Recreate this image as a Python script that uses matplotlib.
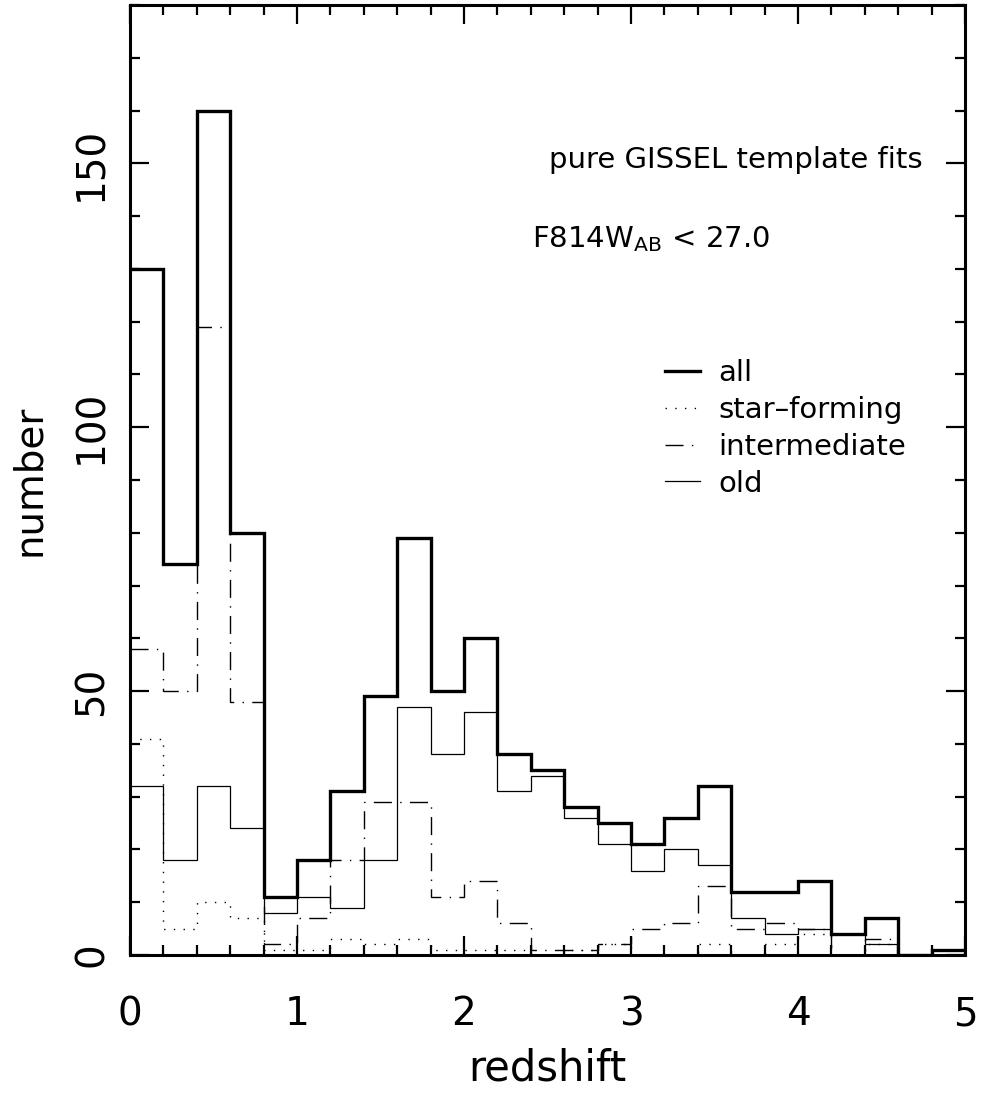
"""Redshift distribution of GISSEL template fits, split by spectral type."""

import matplotlib
matplotlib.use("Agg")
import matplotlib.pyplot as plt
import numpy as np
from matplotlib.lines import Line2D
from matplotlib.ticker import MultipleLocator

# bin edges in redshift (0.2 wide)
bin_edges = np.round(np.arange(0.0, 5.01, 0.2), 1)

# counts per bin
n_all = [130, 74, 160, 80, 11, 18, 31, 49, 79, 50, 60, 38, 35,
         28, 25, 21, 26, 32, 12, 12, 14, 4, 7, 0, 1]
n_starforming = [41, 5, 10, 7, 1, 1, 3, 2, 3, 1, 1, 1, 0,
                 1, 2, 0, 0, 2, 0, 2, 4, 0, 2, 0, 0]
n_intermediate = [58, 50, 119, 48, 2, 7, 18, 29, 29, 11, 14, 6, 1,
                  1, 2, 5, 6, 13, 5, 6, 5, 0, 3, 0, 0]
n_old = [32, 18, 32, 24, 8, 11, 9, 18, 47, 38, 46, 31, 34,
         26, 21, 16, 20, 17, 7, 4, 5, 4, 2, 0, 1]

plt.rcParams["font.family"] = "DejaVu Sans"
plt.rcParams["mathtext.default"] = "regular"

fig = plt.figure(figsize=(9.84, 10.97), dpi=100)
ax = fig.add_axes([0.1321, 0.1294, 0.8486, 0.866])

dotted = (0, (1, 6))
dashdot = (0, (13, 6, 1, 6))

ax.stairs(n_starforming, bin_edges, color="black", lw=1.0, ls=dotted, baseline=None, zorder=2)
ax.stairs(n_intermediate, bin_edges, color="black", lw=1.0, ls=dashdot, baseline=None, zorder=2)
ax.stairs(n_old, bin_edges, color="black", lw=0.9, baseline=None, zorder=3)
ax.stairs(n_all, bin_edges, color="black", lw=2.4, baseline=None, zorder=4)

ax.set_xlim(0, 5)
ax.set_ylim(0, 180)

ax.xaxis.set_major_locator(MultipleLocator(1))
ax.xaxis.set_minor_locator(MultipleLocator(0.2))
ax.yaxis.set_major_locator(MultipleLocator(50))
ax.yaxis.set_minor_locator(MultipleLocator(10))
ax.tick_params(which="both", direction="in", top=True, right=True, width=1.6, colors="black")
ax.tick_params(which="major", length=14, labelsize=28)
ax.tick_params(which="minor", length=7)
ax.tick_params(axis="x", which="major", pad=29)
ax.tick_params(axis="y", which="major", pad=14)
for lbl in ax.get_yticklabels():
    lbl.set_rotation(90)
    lbl.set_va("center")
for side in ax.spines.values():
    side.set_linewidth(2.2)

ax.set_xlabel("redshift", fontsize=30, labelpad=10)
ax.set_ylabel("number", fontsize=28, labelpad=18)

ax.text(0.502, 0.837, "pure GISSEL template fits", transform=ax.transAxes,
        fontsize=21, va="center", ha="left")
ax.text(0.482, 0.754, r"F814W$_{AB}$ < 27.0", transform=ax.transAxes,
        fontsize=21, va="center", ha="left")

handles = [
    Line2D([], [], color="black", lw=2.4),
    Line2D([], [], color="black", lw=1.0, ls=dotted),
    Line2D([], [], color="black", lw=1.0, ls=dashdot),
    Line2D([], [], color="black", lw=0.9),
]
labels = ["all", "star\u2013forming", "intermediate", "old"]
ax.legend(handles, labels, loc="upper left", bbox_to_anchor=(0.6407, 0.627),
          frameon=False, fontsize=21, handlelength=1.2, handletextpad=0.62,
          labelspacing=0.30, borderpad=0, borderaxespad=0)

fig.savefig("out.png", dpi=100)
